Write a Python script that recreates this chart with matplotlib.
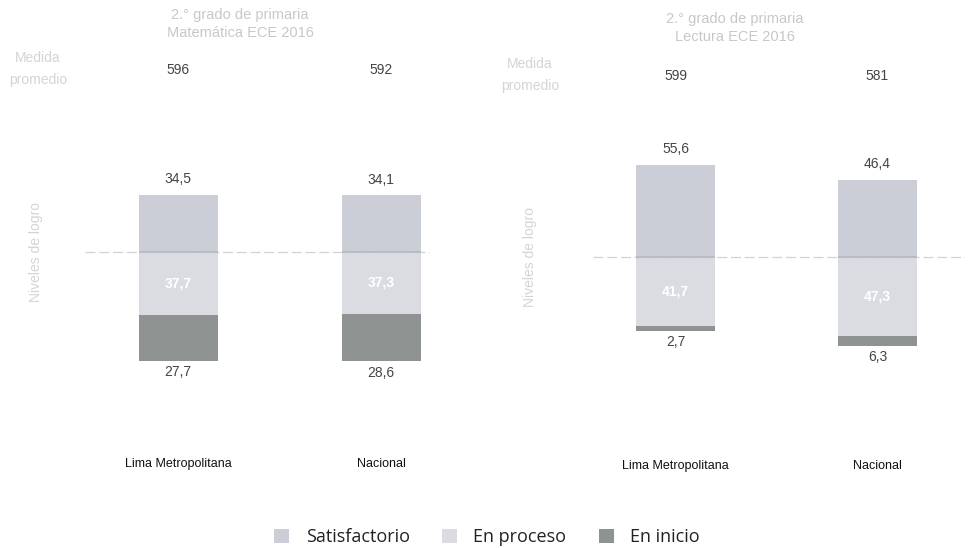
import matplotlib
matplotlib.use("Agg")
import matplotlib.pyplot as plt
from matplotlib.patches import Patch

# Data: ECE 2016, 2.° grado de primaria
regions = ["Lima Metropolitana", "Nacional"]
mat_satisfactorio = [34.5, 34.1]
mat_proceso = [37.7, 37.3]
mat_inicio = [27.7, 28.6]
mat_promedio = [596, 592]

lec_satisfactorio = [55.6, 46.4]
lec_proceso = [41.7, 47.3]
lec_inicio = [2.7, 6.3]
lec_promedio = [599, 581]

titles = ["2.° grado de primaria\nMatemática ECE 2016",
          "2.° grado de primaria\nLectura ECE 2016"]
legend_labels = ["Satisfactorio", "En proceso", "En inicio"]

C_SAT = "#cbced6"
C_PRO = "#dadce2"
C_INI = "#8e9392"
FAINT = "#c8c8c8"
TXT = "#444444"

W, H = 969, 548
fig = plt.figure(figsize=(W / 100, H / 100), dpi=100)
fig.patch.set_facecolor("white")

PX = 1.66  # pixels per percentage point


def fmt(v):
    return f"{v:.1f}".replace(".", ",")


def panel(left_px, right_px, top_px, bottom_px, base_px, c0_px, c1_px,
          sat, pro, ini, prom, title, title_x, title_y, med_x,
          ylab_x, cat_y_px, prom_y_px):
    ax = fig.add_axes([left_px / W, 1 - bottom_px / H,
                       (right_px - left_px) / W, (bottom_px - top_px) / H])
    step = c1_px - c0_px
    ax.set_xlim(-(c0_px - left_px) / step, 1 + (right_px - c1_px) / step)
    ax.set_ylim(-(bottom_px - base_px) / PX, (base_px - top_px) / PX)
    ax.axis("off")
    x = [0, 1]
    bw = 79 / step
    neg_pro = [-p for p in pro]
    neg_ini = [-i for i in ini]
    ax.bar(x, sat, width=bw, color=C_SAT, edgecolor="none")
    ax.bar(x, neg_pro, width=bw, color=C_PRO, edgecolor="none")
    ax.bar(x, neg_ini, bottom=neg_pro, width=bw, color=C_INI, edgecolor="none")
    # zero line: faint dashes across the panel, darker where it crosses bars
    ax.axhline(0, color="#d2d2d2", lw=0.9, ls=(0, (8, 3)), zorder=3)
    ax.hlines([0, 0], [xi - bw / 2 for xi in x], [xi + bw / 2 for xi in x],
              color="#b4b8bf", lw=1.2, zorder=4)
    for xi, s, p, i, m in zip(x, sat, pro, ini, prom):
        ax.text(xi, s + 9.5, fmt(s), ha="center", va="center", fontsize=10,
                color=TXT, family="Liberation Sans")
        ax.text(xi, -p / 2, fmt(p), ha="center", va="center", fontsize=10,
                color="white", family="Liberation Sans", fontweight="bold")
        ax.text(xi, -(p + i) - 6.8, fmt(i), ha="center", va="center",
                fontsize=10, color=TXT, family="Liberation Sans")
        ax.text(xi, (base_px - prom_y_px) / PX, f"{m}", ha="center",
                va="center", fontsize=10, color=TXT, family="Liberation Sans")
        ax.text(xi, -(cat_y_px - base_px) / PX, regions[xi], ha="center",
                va="center", fontsize=9, color="#111111",
                family="Liberation Sans")
    fig.text(title_x / W, 1 - title_y / H, title, ha="center", va="center",
             fontsize=10.5, color=FAINT, linespacing=1.3,
             family="Liberation Sans")
    fig.text(med_x / W, 1 - (prom_y_px - 1) / H, "Medida\npromedio",
             ha="center", va="center", fontsize=10, color="#d4d4d4",
             linespacing=1.75, family="Liberation Sans")
    fig.text(ylab_x / W, 1 - base_px / H, "Niveles de logro",
             rotation=90, ha="center", va="center", fontsize=10,
             color="#d4d4d4", family="Liberation Sans")
    return ax


panel(85, 430, 50, 480, 252, 178, 381,
      mat_satisfactorio, mat_proceso, mat_inicio, mat_promedio,
      titles[0], 240, 24, 38, 36, 464, 70)
panel(593, 965, 50, 480, 257, 675.5, 877.5,
      lec_satisfactorio, lec_proceso, lec_inicio, lec_promedio,
      titles[1], 735, 28, 530, 530, 466, 76)

handles = [Patch(facecolor=c, edgecolor="none") for c in (C_SAT, C_PRO, C_INI)]
fig.legend(handles, legend_labels, loc="center", ncol=3,
           bbox_to_anchor=(487 / W, 1 - 537 / H), frameon=False,
           prop={"family": "Open Sans", "size": 13},
           handlelength=0.83, handleheight=0.83, handletextpad=0.9,
           columnspacing=1.8, labelcolor="#222222")

fig.savefig("out.png", dpi=100, facecolor="white")
